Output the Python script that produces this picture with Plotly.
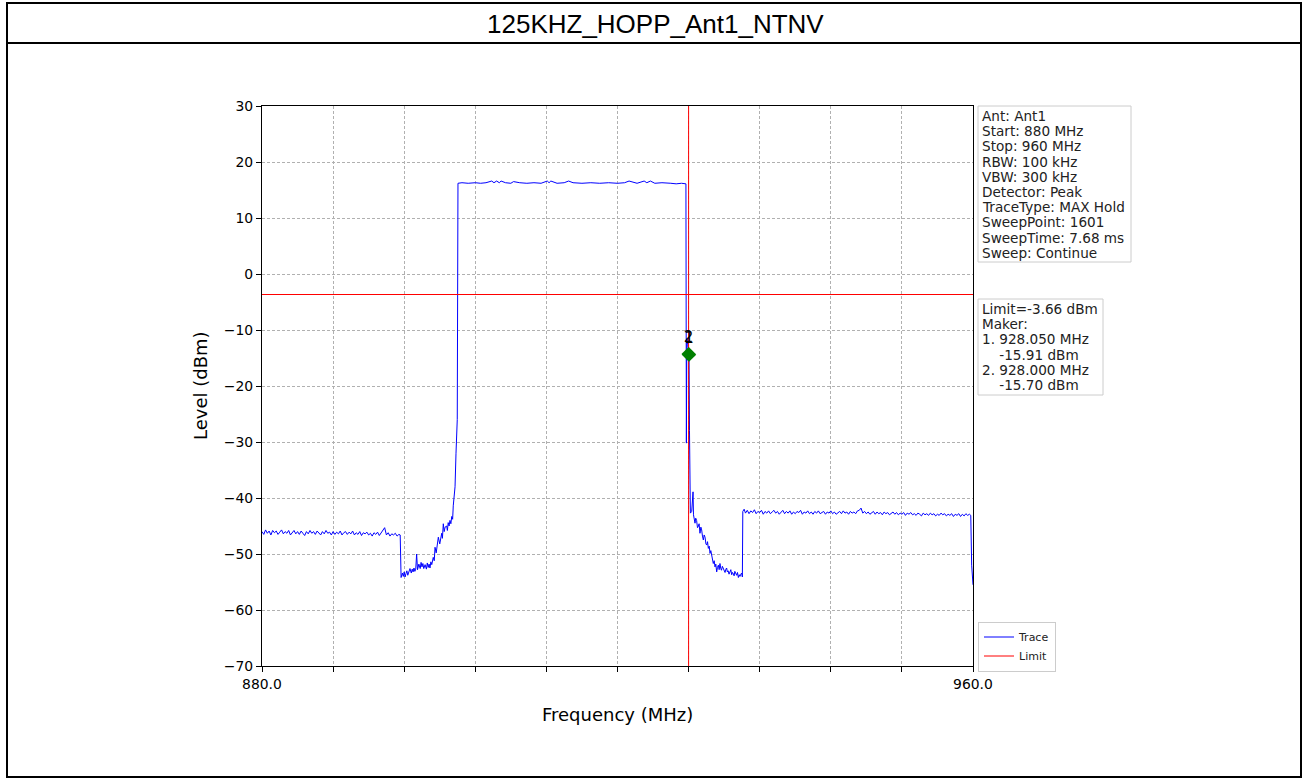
import plotly.graph_objects as go

W, H = 1308, 778

# ---------------- data ----------------
title_text = "125KHZ_HOPP_Ant1_NTNV"

# trace: noise floor below band
freq_low = [880.0, 880.2, 880.4, 880.6, 880.8, 881.0, 881.2, 881.4, 881.6, 881.8,
            882.0, 882.2, 882.4, 882.6, 882.8, 883.0, 883.2, 883.4, 883.6, 883.8,
            884.0, 884.2, 884.4, 884.6, 884.8, 885.0, 885.2, 885.4, 885.6, 885.8,
            886.0, 886.2, 886.4, 886.6, 886.8, 887.0, 887.2, 887.4, 887.6, 887.8,
            888.0, 888.2, 888.4, 888.6, 888.8, 889.0, 889.2, 889.4, 889.6, 889.8,
            890.0, 890.2, 890.4, 890.6, 890.8, 891.0, 891.2, 891.4, 891.6, 891.8,
            892.0, 892.2, 892.4, 892.6, 892.8, 893.0, 893.2, 893.4, 893.6, 893.8,
            894.0, 894.2, 894.4, 894.6, 894.8, 895.0, 895.2, 895.4, 895.55]
level_low = [-46.0, -46.5, -45.7, -46.3, -45.9, -46.6, -45.8, -46.2, -45.9, -46.5,
             -46.1, -45.7, -46.4, -46.0, -46.3, -45.8, -46.6, -46.1, -45.8, -46.4,
             -46.0, -46.5, -45.9, -46.3, -46.7, -46.0, -46.4, -45.8, -46.3, -46.0,
             -46.5, -45.9, -46.2, -46.6, -46.0, -46.4, -45.8, -46.3, -46.1, -46.6,
             -46.0, -46.5, -46.1, -46.4, -45.9, -46.6, -46.2, -46.0, -46.5, -46.1,
             -46.4, -45.9, -46.6, -46.2, -46.5, -46.0, -46.7, -46.2, -46.4, -46.1,
             -46.6, -46.3, -46.8, -46.2, -46.5, -46.1, -46.7, -46.3, -45.9, -45.3,
             -46.6, -46.2, -46.8, -46.4, -46.6, -46.3, -46.8, -46.5, -46.6]

# lower skirt of the hopping band
freq_skirt_l = [895.65, 895.8, 895.9, 896.0, 896.1, 896.2, 896.3, 896.4, 896.5, 896.65,
                896.8, 896.9, 897.0, 897.1, 897.2, 897.3, 897.4, 897.5, 897.65, 897.8,
                897.9, 898.0, 898.1, 898.2, 898.35, 898.5, 898.6, 898.7, 898.8, 898.9,
                899.0, 899.1, 899.27, 899.38, 899.47, 899.6, 899.72, 899.84, 900.0, 900.1,
                900.22, 900.3, 900.4, 900.5, 900.6, 900.78, 900.86, 900.95, 901.05, 901.15,
                901.25, 901.35, 901.45, 901.52, 901.6, 901.72, 901.83, 901.97]
level_skirt_l = [-54.2, -53.4, -54.0, -53.2, -54.1, -53.5, -53.0, -53.8, -53.2, -52.6,
                 -53.4, -52.7, -53.2, -52.5, -53.1, -52.7, -50.0, -52.8, -51.8, -52.6,
                 -51.5, -52.3, -51.7, -52.6, -51.9, -52.7, -51.6, -52.4, -51.8, -52.5,
                 -51.4, -51.9, -50.6, -51.2, -48.8, -49.8, -48.4, -47.0, -48.2, -46.8,
                 -46.3, -47.2, -44.6, -46.0, -45.2, -45.0, -45.8, -44.4, -45.0, -44.0,
                 -44.6, -43.3, -43.8, -41.4, -40.4, -38.0, -32.0, -26.0]

# occupied band (max hold)
freq_band = [902.05, 902.5, 903.2, 904.0, 904.6, 905.2, 905.85, 906.1, 906.4, 906.7,
             906.9, 907.4, 908.0, 908.3, 909.0, 909.8, 910.6, 911.4, 912.1, 912.3,
             912.5, 913.2, 914.0, 914.5, 915.0, 916.0, 917.0, 918.0, 919.0, 920.0,
             920.8, 921.3, 922.2, 923.0, 923.3, 923.7, 924.2, 925.0, 926.0, 926.6,
             927.2, 927.7]
level_band = [16.2, 16.3, 16.2, 16.3, 16.2, 16.3, 16.6, 16.3, 16.6, 16.3,
              16.6, 16.3, 16.2, 16.5, 16.3, 16.2, 16.3, 16.2, 16.6, 16.3,
              16.6, 16.2, 16.3, 16.6, 16.3, 16.2, 16.3, 16.2, 16.3, 16.2,
              16.3, 16.6, 16.2, 16.6, 16.3, 16.6, 16.2, 16.3, 16.2, 16.1,
              16.2, 16.1]

# upper skirt
freq_skirt_h = [927.75, 927.8, 927.9, 928.0, 928.05, 928.1, 928.2, 928.35, 928.5, 928.55,
                928.64, 928.72, 928.8, 928.9, 929.0, 929.09, 929.18, 929.28, 929.38, 929.47,
                929.56, 929.66, 929.75, 929.85, 929.95, 930.04, 930.13, 930.22, 930.32, 930.41,
                930.5, 930.6, 930.7, 930.78, 930.88, 930.97, 931.06, 931.16, 931.25, 931.35,
                931.44, 931.53, 931.62, 931.7, 931.8, 931.9, 932.0, 932.1, 932.2, 932.28,
                932.36, 932.45, 932.55, 932.65, 932.75, 932.85, 932.94, 933.03, 933.12, 933.2,
                933.3, 933.41, 933.5, 933.6, 933.7, 933.78, 933.88, 933.97, 934.05]
level_skirt_h = [-30.2, -11.5, -12.6, -14.3, -14.4, -28.0, -42.7, -42.4, -38.9, -43.0,
                 -43.8, -44.5, -43.6, -44.0, -45.3, -45.1, -44.6, -46.3, -45.2, -45.7,
                 -46.8, -47.5, -46.6, -47.0, -48.2, -48.4, -47.8, -49.0, -48.6, -49.9,
                 -49.4, -50.2, -51.0, -51.7, -51.2, -52.3, -51.8, -53.2, -52.4, -52.0,
                 -52.8, -51.7, -52.6, -52.9, -52.2, -52.6, -53.1, -53.3, -52.7, -52.5,
                 -53.2, -53.0, -53.6, -53.2, -52.8, -53.7, -53.3, -53.5, -53.9, -53.1,
                 -53.6, -53.8, -53.3, -54.2, -53.7, -54.0, -53.6, -53.4, -54.1]

# noise floor above band
freq_high = [934.1, 934.25, 934.4, 934.6, 934.8, 935.0, 935.2, 935.4, 935.6, 935.8,
             936.0, 936.2, 936.4, 936.6, 936.8, 937.0, 937.2, 937.4, 937.6, 937.8,
             938.0, 938.2, 938.4, 938.6, 938.8, 939.0, 939.2, 939.4, 939.6, 939.8,
             940.0, 940.2, 940.4, 940.6, 940.8, 941.0, 941.2, 941.4, 941.6, 941.8,
             942.0, 942.2, 942.4, 942.6, 942.8, 943.0, 943.2, 943.4, 943.6, 943.8,
             944.0, 944.2, 944.4, 944.6, 944.8, 945.0, 945.2, 945.4, 945.6, 945.8,
             946.0, 946.2, 946.4, 946.6, 946.8, 947.0, 947.2, 947.4, 947.6, 947.8,
             948.0, 948.2, 948.4, 948.6, 948.8, 949.0, 949.2, 949.4, 949.6, 949.8,
             950.0, 950.2, 950.4, 950.6, 950.8, 951.0, 951.2, 951.4, 951.6, 951.8,
             952.0, 952.2, 952.4, 952.6, 952.8, 953.0, 953.2, 953.4, 953.6, 953.8,
             954.0, 954.2, 954.4, 954.6, 954.8, 955.0, 955.2, 955.4, 955.6, 955.8,
             956.0, 956.2, 956.4, 956.6, 956.8, 957.0, 957.2, 957.4, 957.6, 957.8,
             958.0, 958.2, 958.4, 958.6, 958.8, 959.0, 959.2, 959.4, 959.6, 959.75,
             959.85, 960.0]
level_high = [-42.4, -42.0, -42.7, -42.2, -42.8, -42.3, -42.6, -42.1, -42.8, -42.4,
              -42.6, -42.2, -42.9, -42.4, -42.7, -42.3, -42.8, -42.5, -42.2, -42.7,
              -42.4, -42.9, -42.5, -42.2, -42.8, -42.4, -42.7, -42.3, -42.9, -42.5,
              -42.8, -42.4, -42.6, -42.2, -42.9, -42.5, -42.7, -42.3, -42.8, -42.5,
              -42.9, -42.4, -42.7, -42.3, -42.8, -42.6, -42.4, -42.9, -42.5, -42.7,
              -42.3, -42.8, -42.5, -42.9, -42.6, -42.4, -42.8, -42.3, -42.7, -42.5,
              -42.9, -42.4, -42.7, -42.5, -42.8, -42.3, -42.2, -41.8, -42.7, -42.4,
              -42.8, -42.5, -42.9, -42.6, -42.4, -42.9, -42.5, -42.8, -42.6, -43.0,
              -42.5, -42.8, -42.6, -43.0, -42.7, -42.5, -42.9, -42.6, -43.0, -42.7,
              -42.9, -42.6, -43.1, -42.7, -42.9, -42.6, -43.0, -42.8, -43.1, -42.7,
              -42.9, -43.2, -42.7, -43.0, -42.8, -43.1, -42.7, -43.0, -42.8, -43.2,
              -42.9, -43.1, -42.7, -43.0, -42.8, -43.2, -42.9, -43.1, -42.8, -43.3,
              -42.9, -43.1, -42.8, -43.3, -42.9, -43.2, -42.8, -43.1, -42.9, -43.1,
              -52.0, -55.5]

limit_level = -3.66
limit_freq = [880.0, 960.0]
marker_freq = [928.050, 928.000]
marker_level = [-14.4, -14.3]
marker_names = ["1", "2"]
marker_line_freq = 928.0

x_tickvals = [880, 888, 896, 904, 912, 920, 928, 936, 944, 952, 960]
x_ticktext = ["880.0", "", "", "", "", "", "", "", "", "", "960.0"]
y_tickvals = [-70, -60, -50, -40, -30, -20, -10, 0, 10, 20, 30]
x_range = [880, 960]
y_range = [-70, 30]

info_lines = ["Ant: Ant1", "Start: 880 MHz", "Stop: 960 MHz", "RBW: 100 kHz",
              "VBW: 300 kHz", "Detector: Peak", "TraceType: MAX Hold",
              "SweepPoint: 1601", "SweepTime: 7.68 ms", "Sweep: Continue"]
marker_lines = ["Limit=-3.66 dBm", "Maker:", "1. 928.050 MHz",
                "\u00a0\u00a0\u00a0\u00a0-15.91 dBm", "2. 928.000 MHz",
                "\u00a0\u00a0\u00a0\u00a0-15.70 dBm"]

# ---------------- assemble ----------------
freq = freq_low + freq_skirt_l + freq_band + freq_skirt_h + freq_high
level = level_low + level_skirt_l + level_band + level_skirt_h + level_high

# pixel helpers (layout only)
def px(x):
    return x / W

def py(y):
    return 1 - y / H

PL, PR, PT, PB = 262, 973, 106, 666
FONT = "DejaVu Sans"

fig = go.Figure()

fig.add_trace(go.Scatter(x=freq, y=level, mode="lines", name="Trace",
                         line=dict(color="#0000ff", width=1)))
fig.add_trace(go.Scatter(x=limit_freq, y=[limit_level, limit_level], mode="lines",
                         name="Limit", line=dict(color="#ff0000", width=1)))
fig.add_trace(go.Scatter(x=[marker_line_freq, marker_line_freq], y=y_range, mode="lines",
                         showlegend=False, line=dict(color="#ff0000", width=1),
                         hoverinfo="skip"))
for f, lv, nm in zip(marker_freq, marker_level, marker_names):
    fig.add_trace(go.Scatter(x=[f], y=[lv], mode="markers+text", text=[nm],
                             textposition="top center",
                             textfont=dict(family=FONT, size=15, color="black"),
                             marker=dict(symbol="diamond", size=11, color="#008000"),
                             showlegend=False))

shapes = [
    dict(type="rect", xref="paper", yref="paper", x0=px(7), x1=px(1301), y0=py(777), y1=py(3),
         line=dict(color="black", width=2), layer="above"),
    dict(type="line", xref="paper", yref="paper", x0=px(7), x1=px(1301), y0=py(43), y1=py(43),
         line=dict(color="black", width=2)),
    dict(type="rect", xref="paper", yref="paper", x0=px(978), x1=px(1131), y0=py(262), y1=py(106),
         line=dict(color="#cccccc", width=1), fillcolor="white"),
    dict(type="rect", xref="paper", yref="paper", x0=px(978), x1=px(1103), y0=py(395), y1=py(299),
         line=dict(color="#cccccc", width=1), fillcolor="white"),
]

annotations = [
    dict(text=title_text, xref="paper", yref="paper", x=px(655), y=py(24.5),
         xanchor="center", yanchor="middle", showarrow=False,
         font=dict(family="Liberation Sans", size=26, color="black")),
    dict(text="Level (dBm)", xref="paper", yref="paper", x=px(200), y=py(386),
         xanchor="center", yanchor="middle", showarrow=False, textangle=-90,
         font=dict(family=FONT, size=18, color="black")),
    dict(text="Frequency (MHz)", xref="paper", yref="paper", x=px(617), y=py(714),
         xanchor="center", yanchor="middle", showarrow=False,
         font=dict(family=FONT, size=18, color="black")),
]
for i, t in enumerate(info_lines):
    annotations.append(dict(text=t, xref="paper", yref="paper", x=px(979.5), y=py(116 + 15.2 * i),
                            xanchor="left", yanchor="middle", showarrow=False,
                            font=dict(family=FONT, size=13.6, color="#222222")))
for i, t in enumerate(marker_lines):
    annotations.append(dict(text=t, xref="paper", yref="paper", x=px(979.5), y=py(309 + 15.2 * i),
                            xanchor="left", yanchor="middle", showarrow=False,
                            font=dict(family=FONT, size=13.6, color="#222222")))

axis_common = dict(showline=True, linecolor="#000000", linewidth=1.2, mirror=True,
                   ticks="outside", ticklen=5, tickwidth=1, tickcolor="#000000",
                   showgrid=True, gridcolor="#b0b0b0", gridwidth=0.8, griddash="3px,2px",
                   zeroline=False, automargin=False,
                   tickfont=dict(family=FONT, size=13.9, color="#000000"))

fig.update_layout(
    width=W, height=H, autosize=False,
    margin=dict(l=0, r=0, t=0, b=0, pad=0, autoexpand=False),
    paper_bgcolor="white", plot_bgcolor="white",
    xaxis=dict(domain=[px(PL), px(PR)], range=x_range, tickmode="array",
               tickvals=x_tickvals, ticktext=x_ticktext, **axis_common),
    yaxis=dict(domain=[py(PB), py(PT)], range=y_range, tickmode="array",
               tickvals=y_tickvals, **axis_common),
    shapes=shapes,
    annotations=annotations,
    showlegend=True,
    legend=dict(x=px(978), y=py(646.5), xanchor="left", yanchor="middle",
                bgcolor="white", bordercolor="#cccccc", borderwidth=1,
                font=dict(family=FONT, size=11, color="#222222"),
                itemwidth=30, tracegroupgap=0),
)

fig.write_html("out.html", config={"displayModeBar": False},
               post_script="document.body.style.margin='0';")
